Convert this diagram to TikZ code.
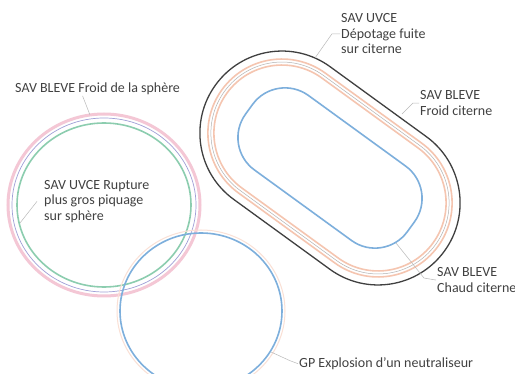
\documentclass[tikz,border=0pt]{standalone}
\usepackage{fontspec}
\setmainfont{Carlito}
\usepackage{tikz}
\usetikzlibrary{positioning}
\definecolor{ZonePink}{RGB}{240,175,195}
\definecolor{ZoneGreen}{RGB}{140,205,175}
\definecolor{ZoneBlue}{RGB}{125,175,220}
\definecolor{ZoneOrange}{RGB}{242,178,150}
\definecolor{ZoneViolet}{RGB}{160,160,215}
\definecolor{LabelGrey}{RGB}{65,65,65}

\begin{document}
\begin{tikzpicture}[
    x=1pt, y=-1pt,
    zone/.style={font=\fontsize{14}{15.5}\selectfont, text=LabelGrey, align=left, inner sep=1pt},
    leader/.style={draw=gray!55, line width=0.5pt},
    pinkring/.style={draw=ZonePink!70, line width=3pt},
    violetring/.style={draw=ZoneViolet, line width=0.7pt},
    greenring/.style={draw=ZoneGreen, line width=1.6pt},
    bluering/.style={draw=ZoneBlue, line width=1.6pt},
    blackzone/.style={draw=black!75, line width=1.3pt},
    orangeband/.style={draw=ZoneOrange!75, line width=1.6pt},
    greyline/.style={draw=gray!60, line width=0.5pt}
]
\fill[white] (0,0) rectangle (515,374);
\useasboundingbox (0,0) rectangle (515,374);

% sphere
\draw[pinkring] (104,205) ellipse [x radius=96pt, y radius=91pt];
\draw[violetring] (104,205) ellipse [x radius=92pt, y radius=87pt];
\draw[greenring] (104,205) ellipse [x radius=87pt, y radius=82pt];

% neutraliseur
\draw[draw=ZoneOrange!40, line width=1pt] (201,311) ellipse [x radius=84pt, y radius=81pt];
\draw[bluering] (201,311) ellipse [x radius=81pt, y radius=78pt];

% citerne
\begin{scope}[shift={(330,168)}, rotate=-36]
  \draw[orangeband, rounded corners=73.9pt] (-133.4,-74) rectangle (133.4,74);
  \draw[greyline, rounded corners=70.9pt] (-130.4,-71) rectangle (130.4,71);
  \draw[orangeband, rounded corners=67.9pt] (-127.4,-68) rectangle (127.4,68);
  \draw[blackzone, rounded corners=81.9pt] (-141.4,-82) rectangle (141.4,82);
  \draw[bluering, rounded corners=40pt] (-100,-46) rectangle (100,46);
\end{scope}

% labels
\node[zone, anchor=base west] (bleveSph) at (14,92.5) {SAV BLEVE Froid de la sphère};
\node[zone, anchor=north west] (uvceSph) at (43,179) {SAV UVCE Rupture\\plus gros piquage\\sur sphère};
\node[zone, anchor=north west] (uvceCit) at (340,12.5) {SAV UVCE\\Dépotage fuite\\sur citerne};
\node[zone, anchor=north west] (bleveFroid) at (419,89.5) {SAV BLEVE\\Froid citerne};
\node[zone, anchor=north west] (bleveChaud) at (436,266.5) {SAV BLEVE\\Chaud citerne};
\node[zone, anchor=base west] (gpNeut) at (298,367.5) {GP Explosion d'un neutraliseur};

% leader ends
\coordinate (sphTop) at (90,115);
\coordinate (sphLeft) at (20,223);
\coordinate (citTop) at (315,58);
\coordinate (citBand) at (402,114);
\coordinate (citInner) at (396,243);
\coordinate (neutEdge) at (271,352);

\draw[leader] ([xshift=-15pt]bleveSph.south) -- (sphTop);
\draw[leader] ([xshift=-6pt]uvceSph.west) -- (sphLeft);
\draw[leader] (uvceCit.west) -- ++(-8,0) -- (citTop);
\draw[leader] (bleveFroid.west) -- ++(-6,0) -- (citBand);
\draw[leader] (bleveChaud.west) -- ++(-12,-2) -- (citInner);
\draw[leader] (gpNeut.west) -- ++(-8,-3) -- (neutEdge);

\end{tikzpicture}
\end{document}
